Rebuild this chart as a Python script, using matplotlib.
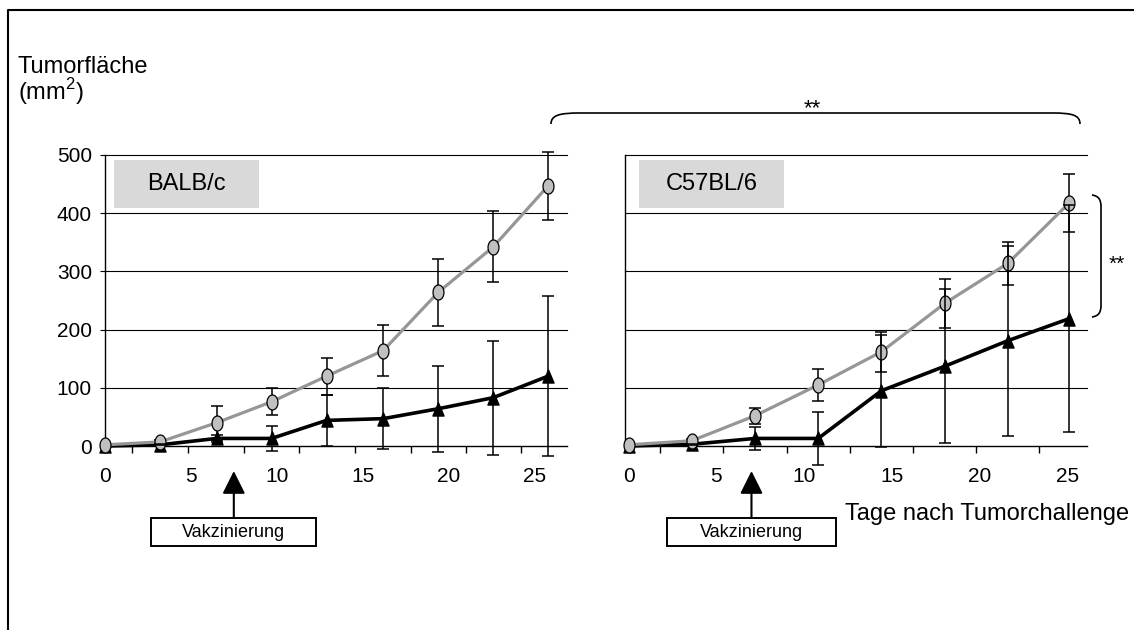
import numpy as np
import matplotlib.pyplot as plt
from matplotlib.path import Path
from matplotlib.patches import PathPatch, Rectangle

plt.rcParams['font.family'] = ['Liberation Sans', 'DejaVu Sans']
plt.rcParams['mathtext.fontset'] = 'custom'
plt.rcParams['mathtext.rm'] = 'Liberation Sans'

# BALB/c: days after tumour challenge, mean tumour area (mm^2) and SD
balb_days = [0, 3.2, 6.5, 9.7, 12.9, 16.2, 19.4, 22.6, 25.8]
balb_ctrl = [2, 7, 40, 76, 120, 164, 264, 342, 447]
balb_ctrl_sd = [0, 3, 29, 23, 32, 44, 57, 61, 58]
balb_vacc = [0, 2, 13, 13, 44, 47, 64, 83, 120]
balb_vacc_sd = [0, 1, 6, 22, 44, 52, 74, 98, 137]

# C57BL/6
c57_days = [0, 3.6, 7.2, 10.8, 14.4, 18.0, 21.6, 25.1]
c57_ctrl = [2, 9, 52, 105, 162, 245, 314, 418]
c57_ctrl_sd = [0, 3, 14, 27, 34, 42, 37, 50]
c57_vacc = [0, 3, 13, 13, 95, 137, 181, 219]
c57_vacc_sd = [0, 1, 20, 46, 96, 132, 163, 195]

x_ticks = [0, 5, 10, 15, 20, 25]
y_ticks = [0, 100, 200, 300, 400, 500]

W, H = 1134, 630

# tall ellipse and narrow triangle markers
t = np.linspace(0, 2 * np.pi, 61)
ellipse = Path(np.column_stack([0.73 * np.cos(t), np.sin(t)]), closed=True)
triangle = Path([(0, 1), (-0.85, -1), (0.85, -1), (0, 1)], closed=True)


def error_bars(ax, days, means, sd, z):
    means = np.asarray(means, dtype=float)
    sd = np.asarray(sd, dtype=float)
    keep = sd > 0
    eb = ax.errorbar(days[keep], means[keep], yerr=sd[keep], fmt='none',
                     ecolor='black', elinewidth=1.1, capsize=4.3,
                     capthick=1.1, zorder=z)
    for art in list(eb.lines[1]) + list(eb.lines[2]):
        art.set_clip_on(False)


def draw_panel(ax, days, ctrl, ctrl_sd, vacc, vacc_sd, strain, xlim,
               vacc_day, box_x, show_ylabels):
    days = np.asarray(days, dtype=float)
    ax.set_xlim(*xlim)
    ax.set_ylim(0, 500)
    ax.set_facecolor('none')

    for y in y_ticks[1:]:
        ax.axhline(y, color='black', lw=0.8, clip_on=False, zorder=1)
    for side in ('top', 'right'):
        ax.spines[side].set_visible(False)
    for side in ('left', 'bottom'):
        ax.spines[side].set_linewidth(1.0)

    ax.plot(days, vacc, color='black', lw=2.6, marker=triangle, ms=9.4,
            mfc='black', mec='black', clip_on=False, zorder=3)
    error_bars(ax, days, ctrl, ctrl_sd, 3.5)
    ax.plot(days, ctrl, color='#969696', lw=2.3, marker=ellipse, ms=10.8,
            mfc='#c0c0c0', mec='black', mew=0.9, clip_on=False, zorder=4)
    error_bars(ax, days, vacc, vacc_sd, 5)

    ax.set_xticks(x_ticks)
    ax.set_xticklabels([str(v) for v in x_ticks])
    ax.set_xticks((days[1:] + days[:-1]) / 2, minor=True)
    ax.tick_params(axis='x', which='major', length=0, pad=15, labelsize=15)
    ax.tick_params(axis='x', which='minor', length=5, width=1,
                   direction='out')
    ax.set_yticks(y_ticks)
    if show_ylabels:
        ax.tick_params(axis='y', length=3.6, width=0.8, pad=5.8,
                       labelsize=15)
    else:
        ax.tick_params(axis='y', length=0, labelleft=False)

    # strain label
    ax.add_patch(Rectangle((box_x, 0.818), 0.314, 0.165,
                           transform=ax.transAxes, facecolor='#d9d9d9',
                           edgecolor='none', zorder=2))
    ax.text(box_x + 0.157, 0.9, strain, transform=ax.transAxes,
            fontsize=17, ha='center', va='center', zorder=2)

    # vaccination marker below the axis
    tr = ax.get_xaxis_transform()
    ax.annotate('', xy=(vacc_day, -0.086), xycoords=tr,
                xytext=(vacc_day, -0.247), textcoords=tr,
                arrowprops=dict(arrowstyle='-|>,head_length=0.7,head_width=0.35',
                                mutation_scale=20, color='black', lw=1.5,
                                shrinkA=0, shrinkB=0),
                annotation_clip=False)
    ax.add_patch(Rectangle((vacc_day - 4.8, -0.344), 9.6, 0.097,
                           transform=tr, facecolor='white',
                           edgecolor='black', lw=1.4, clip_on=False))
    ax.text(vacc_day, -0.296, 'Vakzinierung', transform=tr, fontsize=13,
            ha='center', va='center')


fig = plt.figure(figsize=(W / 100, H / 100), dpi=100)

# full-figure layer in pixel units for frame, labels and brackets
ov = fig.add_axes([0, 0, 1, 1], zorder=0)
ov.set_xlim(0, W)
ov.set_ylim(H, 0)
ov.axis('off')

ov.plot([8, 8, W], [H, 10, 10], color='black', lw=1.5)
ov.text(18, 73, 'Tumorfläche', fontsize=17, va='baseline')
ov.text(18, 100, '(mm$^2$)', fontsize=17, va='baseline')
ov.text(845, 520, 'Tage nach Tumorchallenge', fontsize=17, va='baseline')

curve = [Path.MOVETO, Path.CURVE4, Path.CURVE4, Path.CURVE4,
         Path.LINETO, Path.CURVE4, Path.CURVE4, Path.CURVE4]
top_brace = [(551, 124), (551, 115), (560, 113), (580, 113),
             (1052, 113), (1072, 113), (1080, 115), (1080, 124)]
side_brace = [(1092, 195), (1099, 196), (1101, 200), (1101, 207),
              (1101, 305), (1101, 312), (1099, 316), (1092, 317)]
for verts in (top_brace, side_brace):
    ov.add_patch(PathPatch(Path(verts, curve), facecolor='none',
                           edgecolor='black', lw=1.2))
ov.text(812, 114, '**', fontsize=16, ha='center', va='baseline')
ov.text(1117, 270, '**', fontsize=15, ha='center', va='baseline')

ax1 = fig.add_axes([105 / W, 184 / H, 462 / W, 291 / H], zorder=1)
ax2 = fig.add_axes([625 / W, 184 / H, 462 / W, 291 / H], zorder=1)

draw_panel(ax1, balb_days, balb_ctrl, balb_ctrl_sd, balb_vacc, balb_vacc_sd,
           'BALB/c', (0, 26.9), 7.5, 0.0195, True)
draw_panel(ax2, c57_days, c57_ctrl, c57_ctrl_sd, c57_vacc, c57_vacc_sd,
           'C57BL/6', (-0.2, 26.1), 7.0, 0.030, False)

fig.savefig('out.png', dpi=100)
